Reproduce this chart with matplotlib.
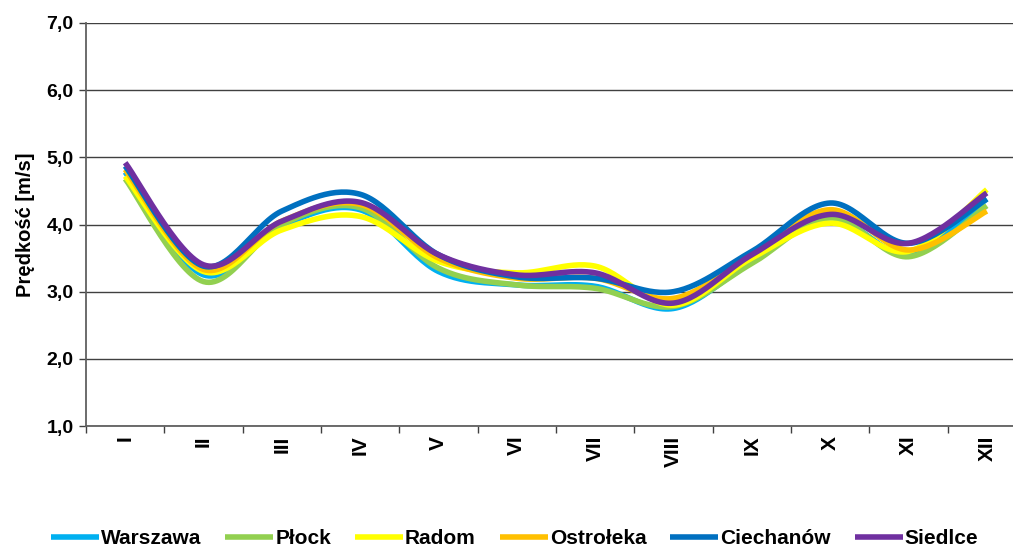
import numpy as np
import matplotlib
matplotlib.use("Agg")
import matplotlib.pyplot as plt
from matplotlib.ticker import FuncFormatter

months = ["I", "II", "III", "IV", "V", "VI", "VII", "VIII", "IX", "X", "XI", "XII"]
warszawa = [4.78, 3.25, 3.98, 4.22, 3.30, 3.10, 3.08, 2.75, 3.45, 4.10, 3.55, 4.38]
plock = [4.68, 3.15, 4.00, 4.25, 3.35, 3.10, 3.05, 2.78, 3.42, 4.10, 3.52, 4.28]
radom = [4.72, 3.30, 3.92, 4.12, 3.45, 3.28, 3.38, 2.80, 3.50, 4.02, 3.60, 4.52]
ostroleka = [4.82, 3.33, 4.05, 4.30, 3.50, 3.20, 3.20, 2.90, 3.55, 4.22, 3.62, 4.20]
ciechanow = [4.87, 3.38, 4.20, 4.45, 3.55, 3.22, 3.20, 3.00, 3.60, 4.32, 3.72, 4.38]
siedlce = [4.92, 3.40, 4.05, 4.33, 3.55, 3.25, 3.28, 2.83, 3.55, 4.15, 3.72, 4.47]

series = [
    ("Warszawa", warszawa, "#00B0F0"),
    ("Płock", plock, "#92D050"),
    ("Radom", radom, "#FFFF00"),
    ("Ostrołeka", ostroleka, "#FFC000"),
    ("Ciechanów", ciechanow, "#0070C0"),
    ("Siedlce", siedlce, "#7030A0"),
]

plt.rcParams['font.family'] = ['Liberation Sans', 'DejaVu Sans']


def smooth(x, y, n=30):
    # Excel-like smoothed line (Catmull-Rom Bezier through the points)
    x = np.asarray(x, float)
    y = np.asarray(y, float)
    px = np.concatenate([[x[0]], x, [x[-1]]])
    py = np.concatenate([[y[0]], y, [y[-1]]])
    xs, ys = [], []
    t = np.linspace(0, 1, n)
    for i in range(1, len(px) - 2):
        p0 = np.array([px[i], py[i]])
        p3 = np.array([px[i + 1], py[i + 1]])
        c1 = p0 + (np.array([px[i + 1], py[i + 1]]) - np.array([px[i - 1], py[i - 1]])) / 6
        c2 = p3 - (np.array([px[i + 2], py[i + 2]]) - np.array([px[i], py[i]])) / 6
        b = ((1 - t) ** 3)[:, None] * p0 + (3 * (1 - t) ** 2 * t)[:, None] * c1 + \
            (3 * (1 - t) * t ** 2)[:, None] * c2 + (t ** 3)[:, None] * p3
        xs.append(b[:, 0])
        ys.append(b[:, 1])
    return np.concatenate(xs), np.concatenate(ys)


fig = plt.figure(figsize=(10.13, 5.47), dpi=100)
left = 86 / 1013
right = 1026 / 1013
bottom = 1 - 426 / 547
top = 1 - 23 / 547
ax = fig.add_axes([left, bottom, right - left, top - bottom])

x = np.arange(len(months))
for name, vals, col in series:
    sx, sy = smooth(x, vals)
    ax.plot(sx, sy, color=col, lw=4.0, solid_capstyle='butt', label=name)

ax.set_xlim(-0.5, 11.5)
ax.set_ylim(1.0, 7.0)
ax.set_yticks(np.arange(1, 7.01, 1))
ax.yaxis.set_major_formatter(FuncFormatter(lambda v, p: f"{v:.1f}".replace(".", ",")))
ax.set_xticks(x)
ax.set_xticklabels(months, rotation=90, fontsize=15, fontweight='bold')
ax.set_xticks(np.arange(-0.5, 11.6, 1), minor=True)
ax.tick_params(axis='x', which='major', length=0, pad=7)
ax.tick_params(axis='x', which='minor', length=5, color='#404040', width=1)
ax.tick_params(axis='y', length=5, color='#404040', width=1, labelsize=14, pad=4)
for lab in ax.get_yticklabels():
    lab.set_fontweight('bold')
ax.grid(axis='y', color='#404040', lw=1)
ax.set_axisbelow(True)
for s in ['top', 'right']:
    ax.spines[s].set_visible(False)
for s in ['left', 'bottom']:
    ax.spines[s].set_color('#606060')
    ax.spines[s].set_linewidth(1.3)
ax.set_ylabel("Prędkość [m/s]", fontsize=14.5, fontweight='bold', labelpad=8)

leg = fig.legend(loc='center', bbox_to_anchor=(0.508, 1 - 539 / 547), ncol=6, frameon=False,
                 prop={'weight': 'bold', 'size': 15}, handlelength=2.3, handletextpad=0.1,
                 columnspacing=1.15, borderpad=0)
for h in leg.get_lines():
    h.set_linewidth(4)

fig.savefig("out.png", dpi=100)
